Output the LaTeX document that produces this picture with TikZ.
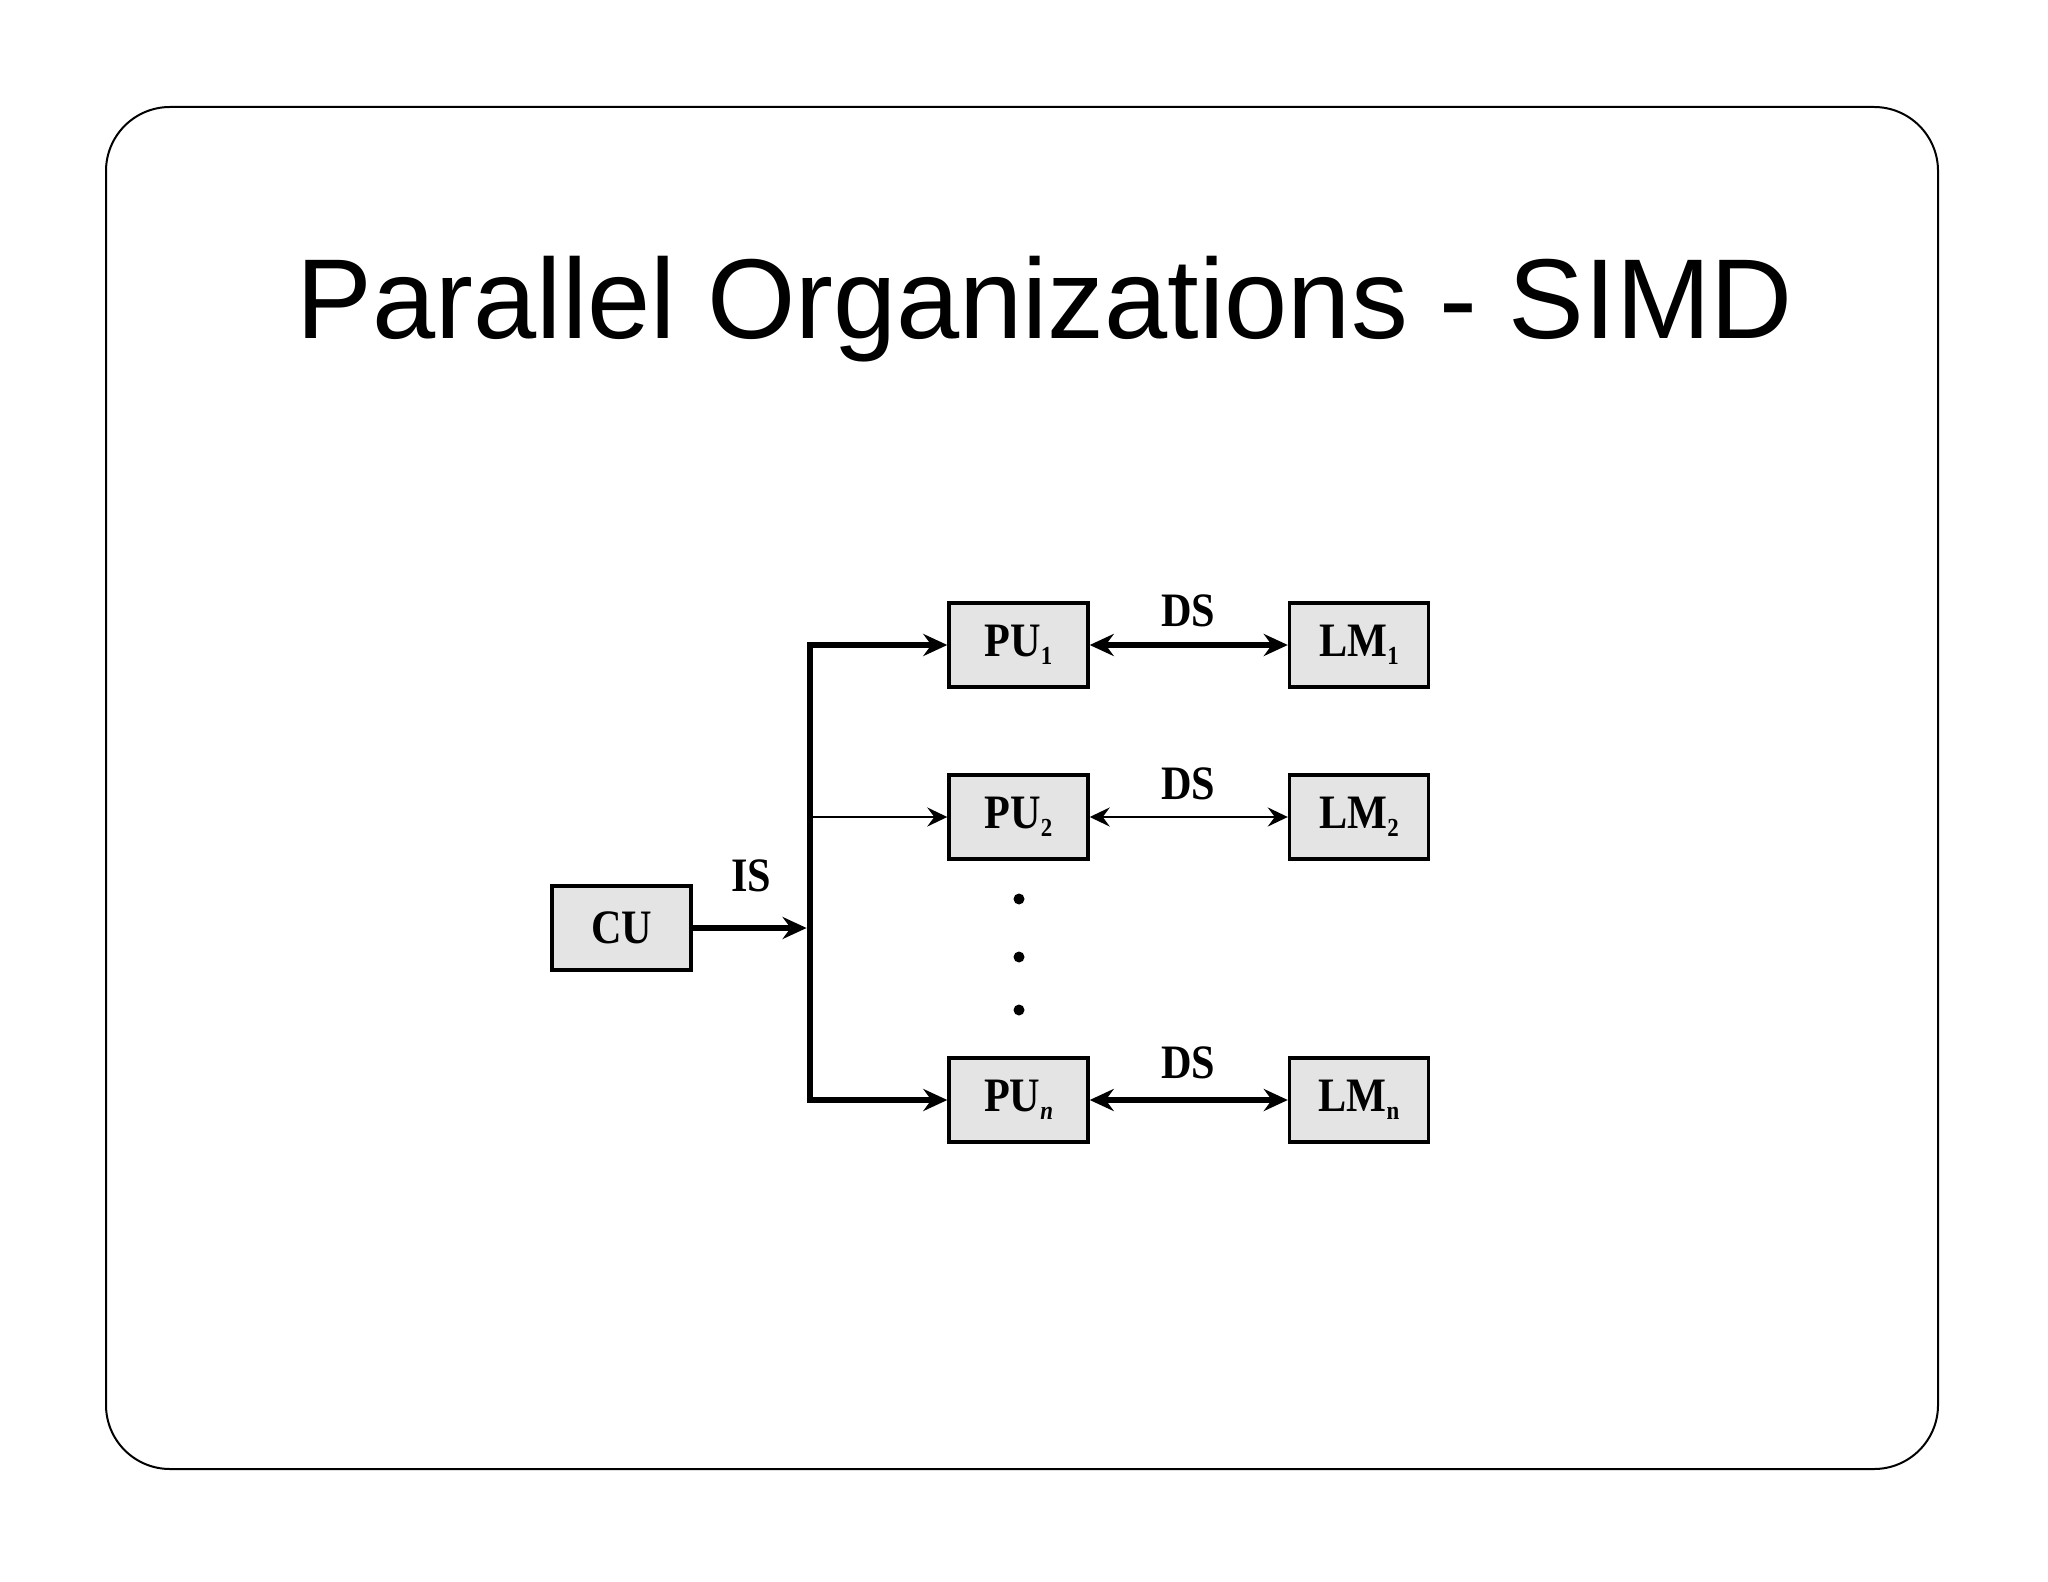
\documentclass[tikz,border=0pt]{standalone}
\usepackage{fontspec}
\setmainfont{Liberation Serif}
\newfontfamily\titlefont{Liberation Sans}
\newfontfamily\diagfont[FakeStretch=0.88]{Liberation Serif}
\usetikzlibrary{arrows.meta}
\definecolor{boxgray}{HTML}{E4E4E4}
\newcommand{\sbs}[1]{\raisebox{-4pt}{\fontsize{13}{14}\selectfont #1}}
\begin{document}
\begin{tikzpicture}[x=0.5pt,y=-0.5pt,
  box/.style={draw=black, line width=1.7pt, fill=boxgray, minimum width=69.5pt, minimum height=42pt, inner sep=0pt, font=\diagfont\bfseries\fontsize{24}{26}\selectfont},
  lbl/.style={inner sep=0pt, font=\diagfont\bfseries\fontsize{24}{26}\selectfont},
  thickline/.style={line width=3.4pt},
  thinline/.style={line width=1.3pt},
  tip/.style={-{Stealth[length=12pt,width=11pt,inset=4pt]}},
  tips/.style={{Stealth[length=12pt,width=11pt,inset=4pt]}-{Stealth[length=12pt,width=11pt,inset=4pt]}},
  thintips/.style={{Stealth[length=10pt,width=9.5pt,inset=3.5pt]}-{Stealth[length=10pt,width=9.5pt,inset=3.5pt]}},
  thintip/.style={-{Stealth[length=10pt,width=9.5pt,inset=3.5pt]}},
  dot/.style={circle, fill=black, inner sep=0pt, minimum size=5.5pt}
]
\useasboundingbox (0,0) rectangle (2048,1582);
\draw[line width=1pt, rounded corners=32pt] (106,107) rectangle (1938,1469);
\node[font=\titlefont\fontsize{56.8}{62}\selectfont, inner sep=0pt] (title) at (1045,309) {Parallel Organizations - SIMD};

\node[box] (cu) at (621.5,928) {CU};
\node[box] (pu1) at (1018.5,645) {PU\sbs{1}};
\node[box] (lm1) at (1359,645) {LM\sbs{1}};
\node[box] (pu2) at (1018.5,817) {PU\sbs{2}};
\node[box] (lm2) at (1359,817) {LM\sbs{2}};
\node[box] (pun) at (1018.5,1100) {PU\sbs{\itshape n}};
\node[box] (lmn) at (1359,1100) {LM\sbs{n}};

\coordinate (bt) at (810,645);
\coordinate (b2) at (810,817);
\coordinate (bm) at (810,928);
\coordinate (bb) at (810,1100);

\draw[thickline, line cap=rect] (bt) -- (bb);
\draw[thickline, tip] (bt) -- (pu1.west);
\draw[thinline, thintip] (b2) -- (pu2.west);
\draw[thickline, tip] (bb) -- (pun.west);
\draw[thickline, tip] (cu.east) -- ([xshift=-1.7pt]bm);

\draw[thickline, tips] (pu1.east) -- (lm1.west);
\draw[thinline, thintips] (pu2.east) -- (lm2.west);
\draw[thickline, tips] (pun.east) -- (lmn.west);

\node[lbl] (is) at (751,876) {IS};
\node[lbl] (ds1) at (1188,611) {DS};
\node[lbl] (ds2) at (1188,784) {DS};
\node[lbl] (dsn) at (1188,1063) {DS};

\node[dot] (d1) at (1019,899) {};
\node[dot] (d2) at (1019,957) {};
\node[dot] (d3) at (1019,1010) {};
\end{tikzpicture}
\end{document}
